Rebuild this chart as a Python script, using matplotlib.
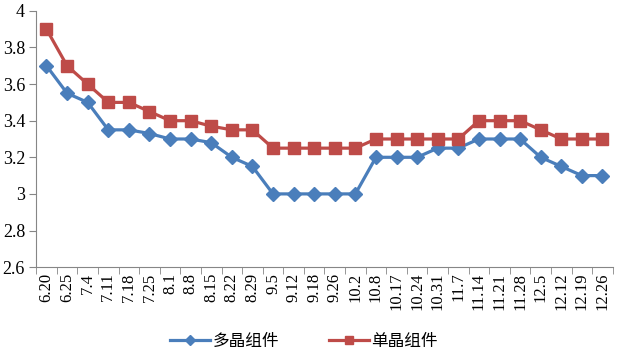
import matplotlib
matplotlib.use("Agg")
import matplotlib.pyplot as plt
import numpy as np

categories = ["6.20", "6.25", "7.4", "7.11", "7.18", "7.25", "8.1", "8.8", "8.15", "8.22",
              "8.29", "9.5", "9.12", "9.18", "9.26", "10.2", "10.8", "10.17", "10.24", "10.31",
              "11.7", "11.14", "11.21", "11.28", "12.5", "12.12", "12.19", "12.26"]
multi = [3.7, 3.55, 3.5, 3.35, 3.35, 3.33, 3.3, 3.3, 3.28, 3.2, 3.15, 3.0, 3.0, 3.0, 3.0, 3.0,
         3.2, 3.2, 3.2, 3.25, 3.25, 3.3, 3.3, 3.3, 3.2, 3.15, 3.1, 3.1]
mono = [3.9, 3.7, 3.6, 3.5, 3.5, 3.45, 3.4, 3.4, 3.37, 3.35, 3.35, 3.25, 3.25, 3.25, 3.25, 3.25,
        3.3, 3.3, 3.3, 3.3, 3.3, 3.4, 3.4, 3.4, 3.35, 3.3, 3.3, 3.3]
series_names = ["多晶组件", "单晶组件"]
yticks = [2.6, 2.8, 3.0, 3.2, 3.4, 3.6, 3.8, 4.0]
ytick_labels = ["2.6", "2.8", "3", "3.2", "3.4", "3.6", "3.8", "4"]

fig = plt.figure(figsize=(6.24, 3.51), dpi=100)
ax = fig.add_axes([0.058, 0.239, 0.924, 0.730])
x = np.arange(len(categories))
ax.plot(x, multi, color="#4A7EBB", lw=2.3, marker="D", ms=7.5, label=series_names[0])
ax.plot(x, mono, color="#BE4B48", lw=2.3, marker="s", ms=8.5, label=series_names[1])

ax.set_xlim(-0.5, len(categories) - 0.5)
ax.set_ylim(2.6, 4.0)
ax.set_yticks(yticks)
ax.set_yticklabels(ytick_labels, fontfamily="Liberation Serif", fontsize=13)
ax.set_xticks(x)
ax.set_xticklabels(categories, rotation=90, fontfamily="Liberation Serif", fontsize=12)
ax.tick_params(axis="x", length=0, pad=4)
ax.set_xticks(np.arange(-0.5, len(categories), 1.0), minor=True)
ax.tick_params(axis="x", which="minor", length=5, color="#868686")
ax.tick_params(axis="y", length=5, color="#868686", pad=3)
for s in ["top", "right"]:
    ax.spines[s].set_visible(False)
for s in ["left", "bottom"]:
    ax.spines[s].set_color("#868686")
    ax.spines[s].set_linewidth(0.8)

leg = fig.legend(loc="center", bbox_to_anchor=(0.487, 0.028), ncol=2, frameon=False,
                 prop={"family": ["Noto Sans CJK SC", "DejaVu Sans"], "size": 12},
                 handlelength=2.4, columnspacing=3.0, handletextpad=0.15, markerscale=0.65)
fig.savefig("out.png", dpi=100)
